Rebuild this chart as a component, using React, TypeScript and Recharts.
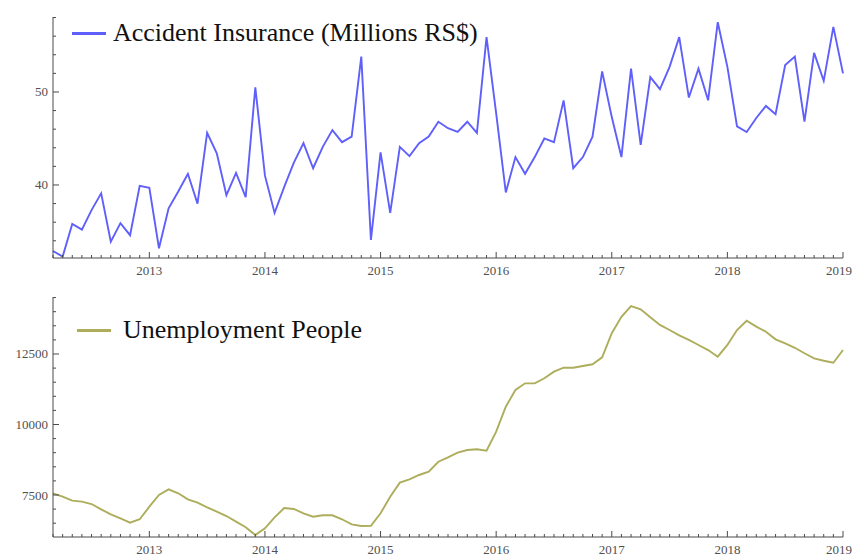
import { LineChart, Line, XAxis, YAxis } from "recharts";

// monthly series, March 2012 .. January 2019
const START_YEAR = 2012;
const START_MONTH = 3;

const accident = [
  32.9, 32.3, 35.8, 35.2, 37.3, 39.1, 33.9, 35.9, 34.6, 39.9,
  39.7, 33.2, 37.5, 39.3, 41.2, 38.0, 45.6, 43.4, 38.9, 41.3,
  38.7, 50.5, 41.0, 37.0, 39.8, 42.4, 44.5, 41.8, 44.1, 45.9,
  44.6, 45.2, 53.8, 34.1, 43.5, 37.0, 44.1, 43.1, 44.5, 45.2,
  46.8, 46.1, 45.7, 46.8, 45.6, 55.9, 47.7, 39.2, 43.0, 41.2,
  43.0, 45.0, 44.6, 49.1, 41.8, 43.0, 45.2, 52.2, 47.3, 43.0,
  52.5, 44.3, 51.6, 50.3, 52.7, 55.9, 49.4, 52.5, 49.1, 57.5,
  52.7, 46.3, 45.7, 47.2, 48.5, 47.6, 52.9, 53.8, 46.8, 54.2,
  51.2, 57.0, 52.0,
];

const unemployment = [
  7560, 7440, 7300, 7265, 7180, 6990, 6815, 6670, 6520, 6640,
  7085, 7500, 7700, 7560, 7345, 7230, 7060, 6910, 6755, 6555,
  6355, 6080, 6320, 6710, 7040, 7005, 6850, 6730, 6780, 6780,
  6640, 6460, 6400, 6410, 6850, 7440, 7940, 8055, 8210, 8330,
  8680, 8835, 9000, 9095, 9120, 9070, 9745, 10630, 11225, 11460,
  11460, 11640, 11875, 12015, 12015, 12075, 12135, 12380, 13235, 13820,
  14200, 14085, 13800, 13530, 13350, 13160, 13000, 12820, 12640, 12405,
  12820, 13350, 13680, 13470, 13290, 13020, 12880, 12720, 12525, 12345,
  12260, 12190, 12640,
];

const accidentTicks = [34, 36, 38, 40, 42, 44, 46, 48, 50, 52, 54, 56, 58];
const accidentLabels = [40, 50];
const unemploymentTicks = [
  6500, 7000, 7500, 8000, 8500, 9000, 9500, 10000, 10500, 11000,
  11500, 12000, 12500, 13000, 13500, 14000, 14500,
];
const unemploymentLabels = [7500, 10000, 12500];

const data = accident.map((v, i) => ({ m: i, accident: v, unemployment: unemployment[i] }));
const monthTicks = data.map((d) => d.m);

const AXIS = "#4a4a4a";
const TICK_FONT = "'Liberation Serif', 'Times New Roman', serif";
const BLUE = "#5f5ffb";
const OLIVE = "#adad5c";

const yearOf = (m: number) => {
  const k = m + START_MONTH - 1;
  return k % 12 === 0 ? START_YEAR + k / 12 : null;
};

function XTick({ x, y, payload }: any) {
  const yr = yearOf(payload.value);
  // keep the last year label inside the picture
  const lx = Math.min(x, 853 - 14);
  return (
    <g>
      <line x1={x} x2={x} y1={y} y2={y - (yr ? 6 : 3)} stroke={AXIS} />
      {yr && (
        <text x={lx} y={y + 12} textAnchor="middle" dominantBaseline="central"
          fontFamily={TICK_FONT} fontSize={13} fill="#505050">
          {yr}
        </text>
      )}
    </g>
  );
}

const makeYTick = (labels: number[]) => ({ x, y, payload }: any) => {
  const major = labels.includes(payload.value);
  return (
    <g>
      <line x1={x} x2={x + (major ? 6 : 3)} y1={y} y2={y} stroke={AXIS} />
      {major && (
        <text x={x - 5} y={y} textAnchor="end" dominantBaseline="central"
          fontFamily={TICK_FONT} fontSize={13} fill="#505050">
          {payload.value}
        </text>
      )}
    </g>
  );
};

const AccTick = makeYTick(accidentLabels);
const UnempTick = makeYTick(unemploymentLabels);

function LegendLabel({ top, left, color, text, gap }: any) {
  return (
    <div style={{ position: "absolute", top, left, display: "flex", alignItems: "center",
      fontFamily: TICK_FONT, fontSize: 26, lineHeight: "26px", color: "#111", whiteSpace: "nowrap" }}>
      <span style={{ display: "inline-block", width: 34, height: 3, background: color, marginRight: gap }} />
      {text}
    </div>
  );
}

export default function App() {
  return (
    <div style={{ position: "absolute", left: 0, top: 0, width: 853, height: 556, background: "#fff" }}>
      <div style={{ position: "absolute", left: 0, top: 0 }}>
        <LineChart width={853} height={280} data={data} margin={{ top: 17, right: 10, bottom: 2, left: 13 }}>
          <XAxis type="number" dataKey="m" domain={[0, 82]} ticks={monthTicks} interval={0}
            tickSize={0} tickMargin={0} tickLine={false} axisLine={{ stroke: AXIS }} tick={<XTick />} height={20} />
          <YAxis type="number" domain={[32.15, 58.06]} ticks={accidentTicks} interval={0} allowDataOverflow
            tickSize={0} tickMargin={0} tickLine={false} axisLine={{ stroke: AXIS }} tick={<AccTick />} width={40} />
          <Line type="linear" dataKey="accident" stroke={BLUE} strokeWidth={1.9} dot={false} isAnimationActive={false} />
        </LineChart>
      </div>
      <div style={{ position: "absolute", left: 0, top: 280 }}>
        <LineChart width={853} height={276} data={data} margin={{ top: 17, right: 10, bottom: 0, left: 13 }}>
          <XAxis type="number" dataKey="m" domain={[0, 82]} ticks={monthTicks} interval={0}
            tickSize={0} tickMargin={0} tickLine={false} axisLine={{ stroke: AXIS }} tick={<XTick />} height={19} />
          <YAxis type="number" domain={[6011, 14521]} ticks={unemploymentTicks} interval={0} allowDataOverflow
            tickSize={0} tickMargin={0} tickLine={false} axisLine={{ stroke: AXIS }} tick={<UnempTick />} width={40} />
          <Line type="linear" dataKey="unemployment" stroke={OLIVE} strokeWidth={1.9} dot={false} isAnimationActive={false} />
        </LineChart>
      </div>
      <LegendLabel top={20} left={72} gap={7} color={BLUE} text="Accident Insurance (Millions RS$)" />
      <LegendLabel top={317} left={77} gap={12} color={OLIVE} text="Unemployment People" />
    </div>
  );
}
